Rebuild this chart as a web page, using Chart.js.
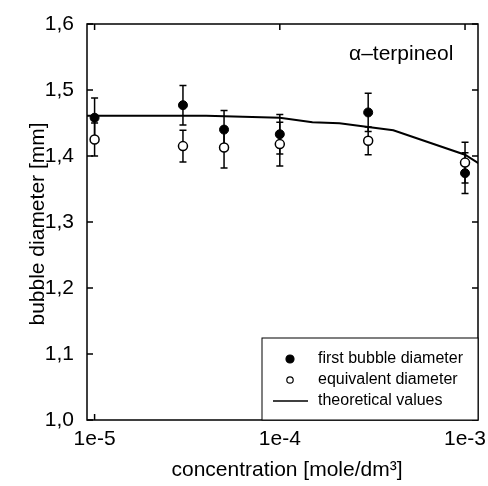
<!DOCTYPE html>
<html>
<head>
<meta charset="utf-8">
<script src="https://cdn.jsdelivr.net/npm/chart.js@4.4.1/dist/chart.umd.min.js"></script>
<style>
  html, body { margin: 0; padding: 0; background: #fff; }
  #wrap { width: 488px; height: 486px; }
</style>
</head>
<body>
<div id="wrap"><canvas id="bubbleChart" width="488" height="486"></canvas></div>
<script>
// data
var concentration = [1e-5, 3e-5, 5e-5, 1e-4, 3e-4, 1e-3];
var firstBubble = [1.458, 1.477, 1.440, 1.433, 1.466, 1.374];
var firstBubbleErr = [0.030, 0.030, 0.029, 0.030, 0.029, 0.031];
var equivalent = [1.425, 1.415, 1.413, 1.418, 1.423, 1.390];
var equivalentErr = [0.025, 0.024, 0.031, 0.033, 0.021, 0.031];
var theoryX = [9.1e-6, 4e-5, 1e-4, 1.5e-4, 2.1e-4, 3e-4, 4.1e-4, 1e-3, 1.18e-3];
var theoryY = [1.461, 1.461, 1.458, 1.451, 1.4495, 1.444, 1.439, 1.402, 1.389];
var xTicks = [1e-5, 1e-4, 1e-3];
var xTickLabels = ['1e-5', '1e-4', '1e-3'];
var yTicks = [1.0, 1.1, 1.2, 1.3, 1.4, 1.5, 1.6];
var yTickLabels = ['1,0', '1,1', '1,2', '1,3', '1,4', '1,5', '1,6'];

var FONT = 'Arial, "Liberation Sans", sans-serif';

function toPoints(xs, ys) {
    return xs.map(function(x, i) { return {x: x, y: ys[i]}; });
}

// error bars, drawn before the markers so the open circles cover them
var errorBars = {
    id: 'errorBars',
    beforeDatasetsDraw: function(chart) {
        var c = chart.ctx, xs = chart.scales.x, ys = chart.scales.y;
        c.save();
        c.strokeStyle = '#000';
        c.lineWidth = 1.5;
        chart.data.datasets.forEach(function(ds) {
            if (!ds.errors) return;
            ds.data.forEach(function(p, i) {
                var px = xs.getPixelForValue(p.x);
                var top = ys.getPixelForValue(p.y + ds.errors[i]);
                var bot = ys.getPixelForValue(p.y - ds.errors[i]);
                c.beginPath();
                c.moveTo(px, top); c.lineTo(px, bot);
                c.moveTo(px - 3.5, top); c.lineTo(px + 3.5, top);
                c.moveTo(px - 3.5, bot); c.lineTo(px + 3.5, bot);
                c.stroke();
            });
        });
        c.restore();
    }
};

// frame, inward ticks, titles and the boxed legend
var decorations = {
    id: 'decorations',
    afterDraw: function(chart) {
        var c = chart.ctx, a = chart.chartArea, xs = chart.scales.x, ys = chart.scales.y;
        c.save();
        c.strokeStyle = '#000';
        c.lineWidth = 1.5;
        c.strokeRect(a.left, a.top, a.right - a.left, a.bottom - a.top);
        c.beginPath();
        yTicks.forEach(function(v) {
            var py = ys.getPixelForValue(v);
            c.moveTo(a.left, py); c.lineTo(a.left + 6, py);
            c.moveTo(a.right, py); c.lineTo(a.right - 6, py);
        });
        xTicks.forEach(function(v) {
            var px = xs.getPixelForValue(v);
            c.moveTo(px, a.bottom); c.lineTo(px, a.bottom - 6);
            c.moveTo(px, a.top); c.lineTo(px, a.top + 6);
        });
        c.stroke();

        c.fillStyle = '#000';
        c.font = '21px ' + FONT;
        c.textBaseline = 'middle';
        c.textAlign = 'left';
        c.fillText('\u03b1\u2013terpineol', 349, 54);

        c.font = '21px ' + FONT;
        c.textAlign = 'center';
        c.fillText('concentration [mole/dm\u00b3]', 287, 470);
        c.save();
        c.translate(38, 224);
        c.rotate(-Math.PI / 2);
        c.fillText('bubble diameter [mm]', 0, 0);
        c.restore();

        // legend box in the lower right corner
        var lx = 262, ly = 338;
        c.fillStyle = '#fff';
        c.fillRect(lx, ly, a.right - lx, a.bottom - ly);
        c.lineWidth = 1;
        c.strokeRect(lx, ly, a.right - lx, a.bottom - ly);
        c.font = '16px ' + FONT;
        c.textAlign = 'left';
        var rows = [359, 380, 401];
        chart.data.datasets.forEach(function(ds, i) {
            var ry = rows[i];
            if (ds.showLine === false) {
                c.beginPath();
                c.arc(290, ry, ds.pointBackgroundColor === '#000' ? 4 : 3.2, 0, Math.PI * 2);
                c.fillStyle = ds.pointBackgroundColor;
                c.fill();
                c.lineWidth = 1.2;
                c.strokeStyle = '#000';
                c.stroke();
            } else {
                c.beginPath();
                c.moveTo(273, ry); c.lineTo(308, ry);
                c.lineWidth = 1.5;
                c.strokeStyle = '#000';
                c.stroke();
            }
            c.fillStyle = '#000';
            c.fillText(ds.label, 318, ry);
        });
        c.restore();
    }
};

var ctx = document.getElementById('bubbleChart').getContext('2d');
var chart = new Chart(ctx, {
    type: 'scatter',
    data: {
        datasets: [{
            label: 'first bubble diameter',
            data: toPoints(concentration, firstBubble),
            errors: firstBubbleErr,
            showLine: false,
            pointRadius: 4.5,
            pointBackgroundColor: '#000',
            pointBorderColor: '#000',
            pointBorderWidth: 1,
            order: 2
        }, {
            label: 'equivalent diameter',
            data: toPoints(concentration, equivalent),
            errors: equivalentErr,
            showLine: false,
            pointRadius: 4.5,
            pointBackgroundColor: '#fff',
            pointBorderColor: '#000',
            pointBorderWidth: 1.5,
            order: 1
        }, {
            label: 'theoretical values',
            data: toPoints(theoryX, theoryY),
            showLine: true,
            borderColor: '#000',
            borderWidth: 2,
            pointRadius: 0,
            tension: 0,
            order: 3
        }]
    },
    options: {
        responsive: false,
        animation: false,
        devicePixelRatio: 1,
        layout: { padding: { top: 24, right: 10, left: 0, bottom: 0 } },
        plugins: {
            legend: { display: false },
            tooltip: { enabled: false }
        },
        scales: {
            x: {
                type: 'logarithmic',
                min: 9.1e-6,
                max: 1.175e-3,
                grid: { display: false, drawTicks: false },
                border: { display: false },
                afterBuildTicks: function(scale) {
                    scale.ticks = xTicks.map(function(v) { return {value: v}; });
                },
                afterFit: function(scale) {
                    scale.height = 66;
                    scale.paddingLeft = 0;
                    scale.paddingRight = 0;
                },
                ticks: {
                    autoSkip: false,
                    maxRotation: 0,
                    padding: 7,
                    color: '#000',
                    font: { family: FONT, size: 21 },
                    callback: function(value) {
                        var i = xTicks.indexOf(value);
                        return i >= 0 ? xTickLabels[i] : '';
                    }
                }
            },
            y: {
                min: 1.0,
                max: 1.6,
                grid: { display: false, drawTicks: false },
                border: { display: false },
                afterBuildTicks: function(scale) {
                    scale.ticks = yTicks.map(function(v) { return {value: v}; });
                },
                afterFit: function(scale) {
                    scale.width = 87;
                    scale.paddingTop = 0;
                    scale.paddingBottom = 0;
                },
                ticks: {
                    autoSkip: false,
                    padding: 13,
                    color: '#000',
                    font: { family: FONT, size: 21 },
                    callback: function(value, index) {
                        return yTickLabels[index];
                    }
                }
            }
        }
    },
    plugins: [errorBars, decorations]
});
</script>
</body>
</html>
